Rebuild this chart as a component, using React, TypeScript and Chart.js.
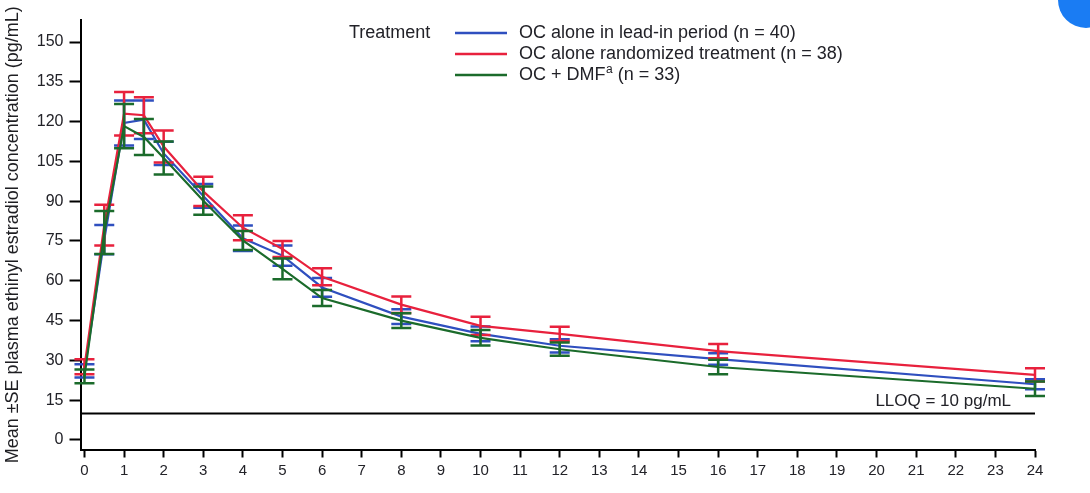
import React, { useEffect, useRef } from "react";
import { Chart, registerables } from "chart.js";

Chart.register(...registerables);

// ---- data ----
const times = [0, 0.5, 1, 1.5, 2, 3, 4, 5, 6, 8, 10, 12, 16, 24];

const leadInMean = [26, 75.5, 119.5, 120.7, 108, 92, 76, 69.5, 57.5, 46.5, 40, 35.5, 30.5, 21];
const leadInSE = [2.5, 5.5, 8.5, 7.3, 4.4, 4.5, 4.8, 3.8, 3.5, 2.8, 2.8, 2.5, 2.2, 1.9];

const randomizedMean = [27.6, 81, 123, 122.4, 110.6, 93.7, 80, 72, 61.5, 51, 43, 40, 33.5, 24.5];
const randomizedSE = [2.8, 7.7, 8.2, 6.8, 6, 5.5, 4.7, 3, 3.2, 3.1, 3.4, 2.7, 2.7, 2.5];

const dmfMean = [24, 78.2, 118.3, 114.2, 106.3, 90.2, 75.2, 64.5, 53.5, 45, 38.5, 34.2, 27.5, 19.3];
const dmfSE = [2.6, 8.1, 8.3, 6.8, 6.2, 5.3, 3.6, 3.9, 3, 2.8, 2.9, 2.5, 2.7, 2.7];

const xTickValues = [0, 1, 2, 3, 4, 5, 6, 7, 8, 9, 10, 11, 12, 13, 14, 15, 16, 17, 18, 19, 20, 21, 22, 23, 24];
const yTickValues = [0, 15, 30, 45, 60, 75, 90, 105, 120, 135, 150];

const legendTitle = "Treatment";
const seriesLabels = [
  "OC alone in lead-in period (n = 40)",
  "OC alone randomized treatment (n = 38)",
  "OC + DMF",
];
const dmfLabelSup = "a";
const dmfLabelRest = " (n = 33)";

const lloqValue = 10;
const lloqLabel = "LLOQ = 10 pg/mL";
const yTitle = "Mean \u00b1SE plasma ethinyl estradiol concentration (pg/mL)";

// ---- styles ----
const FONT = '"Liberation Sans", Arial, Helvetica, sans-serif';
const COLORS = ["#2f4fbf", "#e8213d", "#1b6b2b"];
const TEXT = "#222228";

const means = [leadInMean, randomizedMean, dmfMean];
const ses = [leadInSE, randomizedSE, dmfSE];

const errorBarPlugin = {
  id: "errorBars",
  afterDatasetDraw(chart: any, args: any) {
    const i = args.index;
    const ctx = chart.ctx;
    const xs = chart.scales.x;
    const ys = chart.scales.y;
    const m = means[i];
    const s = ses[i];
    ctx.save();
    ctx.strokeStyle = COLORS[i];
    ctx.lineWidth = 2.5;
    const half = 10;
    for (let k = 0; k < times.length; k++) {
      const x = xs.getPixelForValue(times[k]);
      const y1 = ys.getPixelForValue(m[k] + s[k]);
      const y2 = ys.getPixelForValue(m[k] - s[k]);
      ctx.beginPath();
      ctx.moveTo(x, y1);
      ctx.lineTo(x, y2);
      ctx.moveTo(x - half, y1);
      ctx.lineTo(x + half, y1);
      ctx.moveTo(x - half, y2);
      ctx.lineTo(x + half, y2);
      ctx.stroke();
    }
    ctx.restore();
  },
};

const overlayPlugin = {
  id: "overlay",
  afterDraw(chart: any) {
    const ctx = chart.ctx;
    const area = chart.chartArea;
    const ys = chart.scales.y;
    ctx.save();
    // LLOQ line
    const yl = ys.getPixelForValue(lloqValue);
    ctx.strokeStyle = "#000";
    ctx.lineWidth = 2;
    ctx.beginPath();
    ctx.moveTo(area.left, yl);
    ctx.lineTo(area.right, yl);
    ctx.stroke();
    ctx.fillStyle = TEXT;
    ctx.font = `17px ${FONT}`;
    ctx.textBaseline = "middle";
    ctx.textAlign = "right";
    ctx.fillText(lloqLabel, 1011, 401);

    // legend
    ctx.textAlign = "left";
    ctx.font = `18px ${FONT}`;
    ctx.fillText(legendTitle, 349, 33);
    const rowsY = [33, 54, 75];
    for (let i = 0; i < 3; i++) {
      const y = rowsY[i];
      ctx.strokeStyle = COLORS[i];
      ctx.lineWidth = 2.5;
      ctx.beginPath();
      ctx.moveTo(455, y);
      ctx.lineTo(507, y);
      ctx.stroke();
      ctx.fillStyle = TEXT;
      ctx.font = `18px ${FONT}`;
      ctx.fillText(seriesLabels[i], 519, y);
      if (i === 2) {
        let x = 519 + ctx.measureText(seriesLabels[i]).width + 0.5;
        ctx.font = `12px ${FONT}`;
        ctx.fillText(dmfLabelSup, x, y - 5);
        x += ctx.measureText(dmfLabelSup).width;
        ctx.font = `18px ${FONT}`;
        ctx.fillText(dmfLabelRest, x, y);
      }
    }
    ctx.restore();
  },
};

export default function App() {
  const ref = useRef<HTMLCanvasElement | null>(null);

  useEffect(() => {
    if (!ref.current) return;
    const datasets = seriesLabels.map((label, i) => ({
      label,
      data: times.map((t, k) => ({ x: t, y: means[i][k] })),
      borderColor: COLORS[i],
      backgroundColor: COLORS[i],
      borderWidth: 2.2,
      pointRadius: 0,
      tension: 0,
      fill: false,
      order: 3 - i,
    }));
    const chart = new Chart(ref.current, {
      type: "line",
      data: { datasets },
      plugins: [errorBarPlugin, overlayPlugin],
      options: {
        animation: false,
        responsive: true,
        maintainAspectRatio: false,
        layout: { padding: { top: 20, right: 55, left: 0, bottom: 0 } },
        plugins: { legend: { display: false }, tooltip: { enabled: false } },
        scales: {
          x: {
            type: "linear",
            min: -0.1,
            max: 24,
            afterBuildTicks: (axis: any) => {
              axis.ticks = xTickValues.map((v) => ({ value: v }));
            },
            afterFit: (axis: any) => {
              axis.height = 43.5;
            },
            grid: {
              display: true,
              drawOnChartArea: false,
              drawTicks: true,
              tickLength: 8,
              tickWidth: 2,
              tickColor: "#000",
            },
            border: { display: true, color: "#000", width: 2 },
            ticks: {
              color: TEXT,
              font: { family: FONT, size: 15 },
              padding: 4,
              maxRotation: 0,
              autoSkip: false,
            },
          },
          y: {
            type: "linear",
            min: -3.6,
            max: 158.3,
            afterBuildTicks: (axis: any) => {
              axis.ticks = yTickValues.map((v) => ({ value: v }));
            },
            afterFit: (axis: any) => {
              axis.width = 80.5;
            },
            grid: {
              display: true,
              drawOnChartArea: false,
              drawTicks: true,
              tickLength: 11,
              tickWidth: 2,
              tickColor: "#000",
            },
            border: { display: true, color: "#000", width: 2 },
            ticks: {
              color: TEXT,
              font: { family: FONT, size: 16 },
              padding: 6,
              autoSkip: false,
            },
            title: {
              display: true,
              text: yTitle,
              color: "#1e1e22",
              font: { family: FONT, size: 18 },
              padding: { top: 2, bottom: 0 },
            },
          },
        },
      },
    });
    return () => chart.destroy();
  }, []);

  return (
    <div style={{ position: "absolute", left: 0, top: 0, width: 1090, height: 493, background: "#fff" }}>
      <canvas ref={ref} />
      <div
        style={{
          position: "absolute",
          left: 1058,
          top: -28,
          width: 56,
          height: 56,
          borderRadius: "50%",
          background: "#1a7cf3",
        }}
      />
    </div>
  );
}
